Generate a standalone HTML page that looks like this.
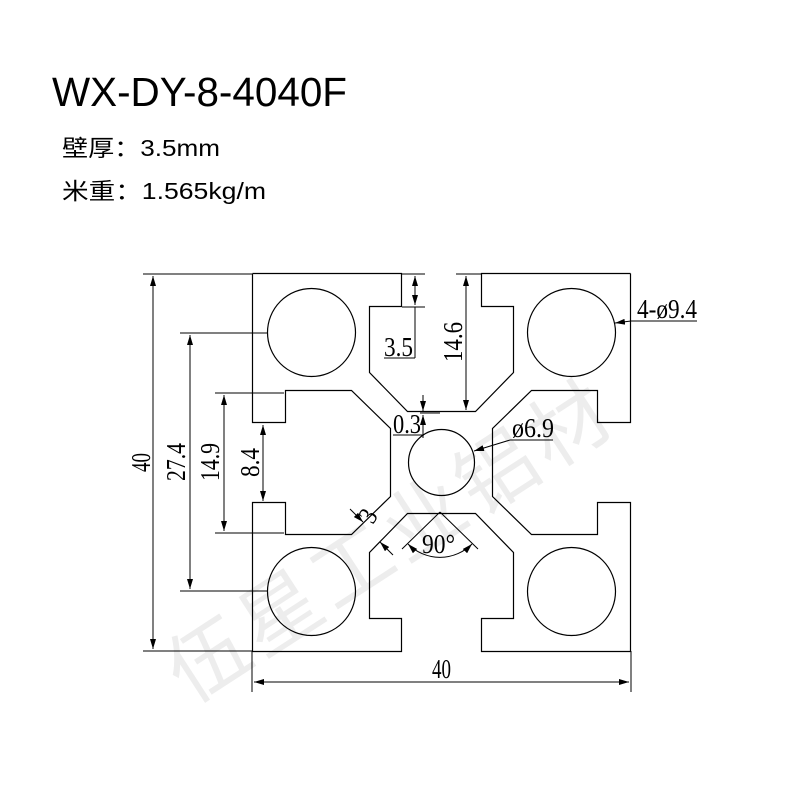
<!DOCTYPE html>
<html><head><meta charset="utf-8"><style>
html,body{margin:0;padding:0;background:#fff;}
svg{display:block;}
</style></head><body>
<svg width="800" height="800" viewBox="0 0 800 800" xmlns="http://www.w3.org/2000/svg">
<defs>
<marker id="a" viewBox="0 0 10 6" refX="10" refY="3" markerWidth="10" markerHeight="6" markerUnits="userSpaceOnUse" orient="auto-start-reverse"><path d="M0,0 L10,3 L0,6 z" fill="#000"/></marker>
</defs>
<text x="0" y="0" transform="translate(190,705) rotate(-33)" font-family="'Noto Sans CJK SC',sans-serif" font-size="80" fill="#ededed" letter-spacing="6">伍星工业铝材</text>

<text x="52" y="106" font-family="'Liberation Sans',sans-serif" font-size="41" fill="#000" textLength="295" lengthAdjust="spacingAndGlyphs">WX-DY-8-4040F</text>
<text x="62" y="156" font-family="'Liberation Sans','Noto Sans CJK SC',sans-serif" font-size="23" fill="#000" textLength="158" lengthAdjust="spacingAndGlyphs">壁厚：3.5mm</text>
<text x="62" y="199" font-family="'Liberation Sans','Noto Sans CJK SC',sans-serif" font-size="23" fill="#000" textLength="204" lengthAdjust="spacingAndGlyphs">米重：1.565kg/m</text>

<g fill="none" stroke="#000" stroke-width="1.2">
<g transform="translate(441.5,462.5)">
 <path id="side" d="M-189,-189 L-40,-189 L-40,-156 L-72,-156 L-72,-90 L-34,-51 L34,-51 L72,-90 L72,-156 L40,-156 L40,-189 L189,-189"/>
 <use href="#side" transform="rotate(90)"/>
 <use href="#side" transform="rotate(180)"/>
 <use href="#side" transform="rotate(270)"/>
 <circle cx="-130" cy="-130" r="44"/>
 <circle cx="130" cy="-130" r="44"/>
 <circle cx="-130" cy="129" r="44"/>
 <circle cx="130" cy="129" r="44"/>
 <circle cx="0" cy="0" r="33"/>
</g>
</g>
<g fill="none" stroke="#000" stroke-width="1">
<line x1="402" y1="274" x2="425" y2="274"/>
<line x1="456" y1="274" x2="481" y2="274"/>
<line x1="402" y1="307" x2="425" y2="307"/>
<line x1="415" y1="276" x2="415" y2="305" marker-start="url(#a)" marker-end="url(#a)"/>
<line x1="415" y1="307" x2="415" y2="358"/>
<line x1="384" y1="358" x2="415" y2="358"/>
<line x1="466" y1="276" x2="466" y2="410" marker-start="url(#a)" marker-end="url(#a)"/>
<line x1="423" y1="395" x2="423" y2="411" marker-end="url(#a)"/>
<line x1="423" y1="438" x2="423" y2="415" marker-end="url(#a)"/>
<line x1="420" y1="413" x2="440" y2="413"/>
<line x1="393" y1="435" x2="424" y2="435"/>
<line x1="510" y1="440" x2="474" y2="451" marker-end="url(#a)"/>
<line x1="510" y1="440" x2="553" y2="440"/>
<line x1="631" y1="321" x2="615" y2="323" marker-end="url(#a)"/>
<line x1="631" y1="321" x2="697" y2="321"/>
<line x1="440" y1="512" x2="402" y2="549"/>
<line x1="440" y1="512" x2="478" y2="549"/>
<path d="M408,544 A45,45 0 0 0 472,544" marker-start="url(#a)" marker-end="url(#a)"/>
<line x1="350" y1="509" x2="363" y2="522" marker-end="url(#a)"/>
<line x1="393" y1="555" x2="380" y2="542" marker-end="url(#a)"/>
<line x1="143" y1="274" x2="252" y2="274"/>
<line x1="143" y1="651" x2="252" y2="651"/>
<line x1="153" y1="276" x2="153" y2="649" marker-start="url(#a)" marker-end="url(#a)"/>
<line x1="180" y1="333" x2="267" y2="333"/>
<line x1="180" y1="591" x2="267" y2="591"/>
<line x1="190" y1="335" x2="190" y2="589" marker-start="url(#a)" marker-end="url(#a)"/>
<line x1="215" y1="393" x2="284" y2="393"/>
<line x1="215" y1="533" x2="284" y2="533"/>
<line x1="224" y1="395" x2="224" y2="531" marker-start="url(#a)" marker-end="url(#a)"/>
<line x1="263" y1="425" x2="263" y2="501" marker-start="url(#a)" marker-end="url(#a)"/>
<line x1="252" y1="651" x2="252" y2="692"/>
<line x1="631" y1="651" x2="631" y2="692"/>
<line x1="254" y1="682" x2="629" y2="682" marker-start="url(#a)" marker-end="url(#a)"/>
</g>
<g font-family="'Liberation Serif',serif" font-size="27" fill="#000">
<text x="384" y="356" textLength="29" lengthAdjust="spacingAndGlyphs">3.5</text>
<text transform="translate(462,362) rotate(-90)" textLength="40" lengthAdjust="spacingAndGlyphs">14.6</text>
<text x="393" y="433" textLength="28" lengthAdjust="spacingAndGlyphs">0.3</text>
<text x="512" y="437" textLength="42" lengthAdjust="spacingAndGlyphs">ø6.9</text>
<text x="637" y="318" textLength="60" lengthAdjust="spacingAndGlyphs">4-ø9.4</text>
<text x="422" y="553" textLength="33" lengthAdjust="spacingAndGlyphs">90°</text>
<text transform="translate(373,525) rotate(-60)" textLength="11" lengthAdjust="spacingAndGlyphs">3</text>
<text transform="translate(150,472) rotate(-90)" textLength="19" lengthAdjust="spacingAndGlyphs">40</text>
<text transform="translate(185,481) rotate(-90)" textLength="38" lengthAdjust="spacingAndGlyphs">27.4</text>
<text transform="translate(219,481) rotate(-90)" textLength="38" lengthAdjust="spacingAndGlyphs">14.9</text>
<text transform="translate(259,477) rotate(-90)" textLength="29" lengthAdjust="spacingAndGlyphs">8.4</text>
<text x="432" y="678" textLength="19" lengthAdjust="spacingAndGlyphs">40</text>
</g>
</svg>
</body></html>
